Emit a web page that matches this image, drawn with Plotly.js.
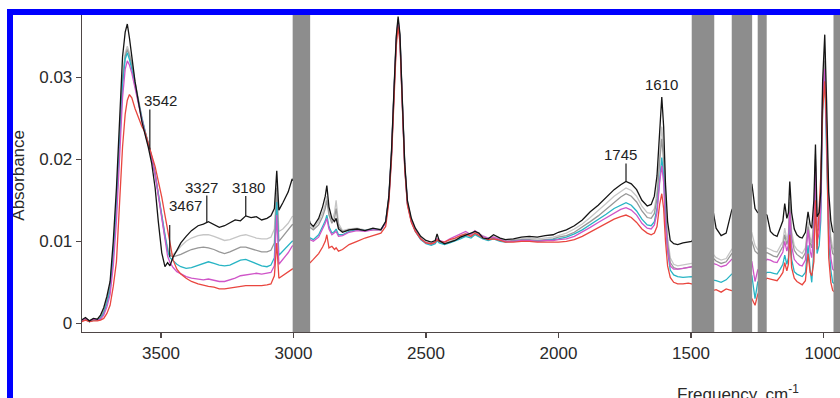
<!DOCTYPE html>
<html>
<head>
<meta charset="utf-8">
<script src="https://cdn.plot.ly/plotly-3.0.1.min.js"></script>
<style>
  html, body { margin: 0; padding: 0; background: #ffffff; overflow: hidden; width: 840px; height: 398px; }
  #chart { width: 900px; height: 398px; }
  #frame {
    position: absolute; left: 7px; top: 9px; width: 900px; height: 500px;
    border-left: 6px solid #0000ff; border-top: 6px solid #0000ff;
    pointer-events: none;
  }
</style>
</head>
<body>
<div id="chart"></div>
<div id="frame"></div>
<script>
// Wavenumber grid, cm-1 (descending)
const freq = [
  3800, 3785, 3770, 3755, 3740, 3728, 3716, 3704, 3692, 3680,
  3668, 3656, 3645, 3635, 3627, 3619, 3610, 3598, 3585, 3572,
  3560, 3548, 3535, 3522, 3510, 3497, 3485, 3475, 3466, 3454,
  3440, 3425, 3405, 3385, 3360, 3340, 3321, 3300, 3280, 3260,
  3240, 3220, 3200, 3180, 3160, 3140, 3120, 3100, 3085, 3072,
  3063, 3055, 3040, 3020, 3005, 2970, 2937, 2925, 2905, 2890,
  2880, 2874, 2866, 2855, 2845, 2839, 2830, 2815, 2790, 2760,
  2730, 2700, 2670, 2652, 2640, 2630, 2620, 2612, 2605, 2598,
  2590, 2580, 2570, 2555, 2540, 2520, 2500, 2480, 2465, 2458,
  2450, 2430, 2410, 2390, 2370, 2350, 2330, 2315, 2300, 2285,
  2265, 2245, 2220, 2200, 2170, 2140, 2110, 2080, 2050, 2020,
  2000, 1970, 1940, 1910, 1880, 1850, 1820, 1790, 1765, 1745,
  1725, 1705, 1685, 1665, 1650, 1638, 1628, 1618, 1610, 1603,
  1596, 1588, 1578, 1565, 1550, 1530, 1510, 1497, 1460, 1418,
  1405, 1386, 1367, 1346, 1310, 1270, 1258, 1248, 1230, 1213,
  1200, 1188, 1175, 1163, 1153, 1146, 1138, 1132, 1127, 1120,
  1110, 1100, 1090, 1080, 1068, 1058, 1050, 1044, 1036, 1030,
  1024, 1016, 1010, 1003, 995, 988, 980, 972, 965, 950,
  935
];

const absBlack = [
  0.0004, 0.0007, 0.0003, 0.0006, 0.0005, 0.0010, 0.0019, 0.0033, 0.0051, 0.0100,
  0.0165, 0.0258, 0.0325, 0.0355, 0.0365, 0.0348, 0.0325, 0.0295, 0.0270, 0.0246,
  0.0230, 0.0215, 0.0195, 0.0165, 0.0124, 0.0086, 0.0069, 0.0074, 0.0070, 0.0081,
  0.0089, 0.0098, 0.0106, 0.0113, 0.0119, 0.0121, 0.0124, 0.0120, 0.0117, 0.0119,
  0.0123, 0.0126, 0.0125, 0.0131, 0.0129, 0.0130, 0.0126, 0.0128, 0.0131, 0.0140,
  0.0186, 0.0138, 0.0147, 0.0160, 0.0176, 0.0160, 0.0122, 0.0118, 0.0128, 0.0142,
  0.0155, 0.0168, 0.0142, 0.0128, 0.0124, 0.0128, 0.0115, 0.0111, 0.0114, 0.0115,
  0.0113, 0.0116, 0.0114, 0.0124, 0.0155, 0.0210, 0.0290, 0.0350, 0.0374, 0.0352,
  0.0280, 0.0195, 0.0150, 0.0128, 0.0116, 0.0106, 0.0101, 0.0099, 0.0101, 0.0109,
  0.0101, 0.0097, 0.0099, 0.0101, 0.0105, 0.0108, 0.0110, 0.0112, 0.0110, 0.0104,
  0.0103, 0.0108, 0.0104, 0.0102, 0.0103, 0.0105, 0.0106, 0.0105, 0.0107, 0.0108,
  0.0111, 0.0114, 0.0119, 0.0126, 0.0136, 0.0144, 0.0154, 0.0163, 0.0169, 0.0173,
  0.0170, 0.0163, 0.0150, 0.0143, 0.0145, 0.0155, 0.0180, 0.0240, 0.0276, 0.0240,
  0.0170, 0.0124, 0.0101, 0.0097, 0.0096, 0.0098, 0.0099, 0.0100, 0.0120, 0.0140,
  0.0116, 0.0107, 0.0110, 0.0138, 0.0160, 0.0170, 0.0140, 0.0135, 0.0135, 0.0132,
  0.0112, 0.0108, 0.0106, 0.0116, 0.0125, 0.0146, 0.0128, 0.0135, 0.0173, 0.0135,
  0.0115, 0.0108, 0.0105, 0.0104, 0.0111, 0.0136, 0.0120, 0.0116, 0.0150, 0.0218,
  0.0130, 0.0135, 0.0160, 0.0295, 0.0352, 0.0270, 0.0160, 0.0125, 0.0112, 0.0108,
  0.0110
];

const absLightGray = [
  0.0003, 0.0005, 0.0002, 0.0004, 0.0004, 0.0007, 0.0015, 0.0028, 0.0045, 0.0090,
  0.0150, 0.0235, 0.0300, 0.0330, 0.0338, 0.0330, 0.0318, 0.0295, 0.0272, 0.0252,
  0.0235, 0.0220, 0.0204, 0.0183, 0.0158, 0.0130, 0.0108, 0.0093, 0.0085, 0.0084,
  0.0088, 0.0094, 0.0100, 0.0104, 0.0107, 0.0108, 0.0108, 0.0106, 0.0103, 0.0101,
  0.0102, 0.0105, 0.0107, 0.0108, 0.0106, 0.0104, 0.0103, 0.0103, 0.0105, 0.0115,
  0.0170, 0.0112, 0.0115, 0.0122, 0.0130, 0.0135, 0.0120, 0.0116, 0.0124, 0.0135,
  0.0145, 0.0155, 0.0135, 0.0125, 0.0135, 0.0150, 0.0122, 0.0113, 0.0115, 0.0116,
  0.0114, 0.0115, 0.0115, 0.0124, 0.0154, 0.0208, 0.0288, 0.0348, 0.0371, 0.0350,
  0.0278, 0.0193, 0.0148, 0.0126, 0.0114, 0.0104, 0.0099, 0.0097, 0.0099, 0.0104,
  0.0100, 0.0098, 0.0100, 0.0103, 0.0106, 0.0110, 0.0108, 0.0112, 0.0108, 0.0107,
  0.0104, 0.0106, 0.0103, 0.0101, 0.0102, 0.0103, 0.0104, 0.0103, 0.0104, 0.0105,
  0.0107, 0.0110, 0.0115, 0.0121, 0.0129, 0.0137, 0.0146, 0.0155, 0.0161, 0.0165,
  0.0162, 0.0155, 0.0143, 0.0135, 0.0134, 0.0140, 0.0160, 0.0210, 0.0240, 0.0210,
  0.0150, 0.0105, 0.0080, 0.0072, 0.0070, 0.0071, 0.0072, 0.0073, 0.0080, 0.0085,
  0.0080, 0.0077, 0.0079, 0.0090, 0.0100, 0.0110, 0.0095, 0.0090, 0.0090, 0.0092,
  0.0090, 0.0088, 0.0087, 0.0095, 0.0100, 0.0116, 0.0102, 0.0110, 0.0158, 0.0112,
  0.0095, 0.0090, 0.0087, 0.0085, 0.0092, 0.0124, 0.0104, 0.0098, 0.0130, 0.0206,
  0.0118, 0.0122, 0.0150, 0.0285, 0.0330, 0.0250, 0.0140, 0.0105, 0.0092, 0.0088,
  0.0090
];

const absGray = [
  0.0003, 0.0006, 0.0002, 0.0005, 0.0004, 0.0007, 0.0014, 0.0027, 0.0044, 0.0088,
  0.0148, 0.0232, 0.0296, 0.0326, 0.0334, 0.0327, 0.0315, 0.0293, 0.0270, 0.0250,
  0.0234, 0.0219, 0.0203, 0.0182, 0.0157, 0.0128, 0.0105, 0.0090, 0.0083, 0.0081,
  0.0082, 0.0084, 0.0087, 0.0090, 0.0092, 0.0093, 0.0092, 0.0090, 0.0087, 0.0085,
  0.0087, 0.0090, 0.0093, 0.0093, 0.0091, 0.0089, 0.0087, 0.0087, 0.0089, 0.0098,
  0.0165, 0.0100, 0.0106, 0.0113, 0.0120, 0.0125, 0.0117, 0.0114, 0.0120, 0.0130,
  0.0140, 0.0150, 0.0132, 0.0122, 0.0128, 0.0140, 0.0118, 0.0112, 0.0114, 0.0115,
  0.0113, 0.0114, 0.0114, 0.0123, 0.0153, 0.0207, 0.0287, 0.0347, 0.0370, 0.0349,
  0.0277, 0.0192, 0.0147, 0.0125, 0.0113, 0.0103, 0.0098, 0.0096, 0.0098, 0.0102,
  0.0099, 0.0097, 0.0099, 0.0102, 0.0104, 0.0107, 0.0106, 0.0109, 0.0106, 0.0104,
  0.0102, 0.0104, 0.0101, 0.0100, 0.0101, 0.0102, 0.0102, 0.0101, 0.0102, 0.0103,
  0.0105, 0.0107, 0.0111, 0.0117, 0.0124, 0.0131, 0.0139, 0.0148, 0.0154, 0.0158,
  0.0155, 0.0148, 0.0137, 0.0129, 0.0128, 0.0134, 0.0152, 0.0198, 0.0225, 0.0198,
  0.0140, 0.0098, 0.0074, 0.0068, 0.0066, 0.0067, 0.0068, 0.0069, 0.0075, 0.0080,
  0.0076, 0.0073, 0.0075, 0.0085, 0.0095, 0.0100, 0.0088, 0.0085, 0.0085, 0.0086,
  0.0084, 0.0082, 0.0081, 0.0089, 0.0094, 0.0108, 0.0096, 0.0104, 0.0148, 0.0105,
  0.0089, 0.0084, 0.0081, 0.0079, 0.0086, 0.0118, 0.0098, 0.0092, 0.0124, 0.0200,
  0.0112, 0.0116, 0.0144, 0.0280, 0.0320, 0.0240, 0.0132, 0.0098, 0.0085, 0.0081,
  0.0083
];

const absCyan = [
  0.0002, 0.0005, 0.0002, 0.0004, 0.0004, 0.0006, 0.0012, 0.0024, 0.0040, 0.0080,
  0.0140, 0.0220, 0.0290, 0.0322, 0.0330, 0.0322, 0.0310, 0.0290, 0.0268, 0.0250,
  0.0234, 0.0219, 0.0203, 0.0182, 0.0157, 0.0128, 0.0103, 0.0088, 0.0080, 0.0076,
  0.0072, 0.0069, 0.0067, 0.0068, 0.0071, 0.0073, 0.0075, 0.0073, 0.0071, 0.0070,
  0.0071, 0.0074, 0.0077, 0.0078, 0.0075, 0.0072, 0.0070, 0.0069, 0.0071, 0.0080,
  0.0148, 0.0083, 0.0088, 0.0095, 0.0100, 0.0103, 0.0104, 0.0102, 0.0108, 0.0118,
  0.0125, 0.0132, 0.0118, 0.0110, 0.0112, 0.0115, 0.0108, 0.0108, 0.0112, 0.0114,
  0.0113, 0.0115, 0.0114, 0.0123, 0.0152, 0.0206, 0.0286, 0.0345, 0.0368, 0.0347,
  0.0276, 0.0191, 0.0146, 0.0124, 0.0112, 0.0102, 0.0097, 0.0095, 0.0097, 0.0101,
  0.0098, 0.0096, 0.0098, 0.0101, 0.0103, 0.0106, 0.0104, 0.0108, 0.0105, 0.0103,
  0.0101, 0.0103, 0.0100, 0.0099, 0.0100, 0.0101, 0.0101, 0.0100, 0.0101, 0.0102,
  0.0103, 0.0105, 0.0109, 0.0114, 0.0120, 0.0126, 0.0133, 0.0140, 0.0144, 0.0147,
  0.0144, 0.0137, 0.0127, 0.0120, 0.0119, 0.0124, 0.0140, 0.0180, 0.0202, 0.0180,
  0.0125, 0.0088, 0.0065, 0.0059, 0.0057, 0.0056, 0.0057, 0.0057, 0.0055, 0.0053,
  0.0052, 0.0050, 0.0053, 0.0060, 0.0060, 0.0058, 0.0030, 0.0050, 0.0058, 0.0062,
  0.0062, 0.0061, 0.0060, 0.0066, 0.0072, 0.0083, 0.0072, 0.0080, 0.0124, 0.0078,
  0.0063, 0.0060, 0.0058, 0.0057, 0.0062, 0.0095, 0.0065, 0.0050, 0.0090, 0.0180,
  0.0085, 0.0095, 0.0125, 0.0260, 0.0300, 0.0210, 0.0100, 0.0065, 0.0050, 0.0046,
  0.0048
];

const absMagenta = [
  0.0003, 0.0006, 0.0003, 0.0005, 0.0004, 0.0005, 0.0010, 0.0020, 0.0035, 0.0070,
  0.0125, 0.0205, 0.0275, 0.0310, 0.0320, 0.0315, 0.0305, 0.0287, 0.0266, 0.0248,
  0.0232, 0.0218, 0.0202, 0.0181, 0.0155, 0.0125, 0.0098, 0.0082, 0.0074, 0.0068,
  0.0063, 0.0060, 0.0057, 0.0055, 0.0054, 0.0053, 0.0054, 0.0052, 0.0051, 0.0051,
  0.0053, 0.0055, 0.0058, 0.0059, 0.0060, 0.0061, 0.0060, 0.0061, 0.0062, 0.0070,
  0.0132, 0.0072, 0.0078, 0.0086, 0.0094, 0.0100, 0.0102, 0.0100, 0.0105, 0.0115,
  0.0122, 0.0128, 0.0115, 0.0108, 0.0110, 0.0112, 0.0106, 0.0107, 0.0111, 0.0113,
  0.0112, 0.0114, 0.0114, 0.0122, 0.0151, 0.0205, 0.0285, 0.0344, 0.0367, 0.0346,
  0.0275, 0.0190, 0.0146, 0.0124, 0.0113, 0.0103, 0.0098, 0.0097, 0.0099, 0.0103,
  0.0101, 0.0099, 0.0103, 0.0106, 0.0110, 0.0112, 0.0108, 0.0113, 0.0109, 0.0106,
  0.0104, 0.0105, 0.0102, 0.0100, 0.0100, 0.0101, 0.0101, 0.0100, 0.0101, 0.0101,
  0.0102, 0.0103, 0.0106, 0.0111, 0.0117, 0.0123, 0.0129, 0.0135, 0.0139, 0.0141,
  0.0138, 0.0132, 0.0122, 0.0116, 0.0115, 0.0120, 0.0135, 0.0172, 0.0192, 0.0172,
  0.0122, 0.0090, 0.0070, 0.0066, 0.0066, 0.0067, 0.0068, 0.0069, 0.0071, 0.0073,
  0.0072, 0.0069, 0.0071, 0.0078, 0.0080, 0.0075, 0.0051, 0.0065, 0.0072, 0.0078,
  0.0077, 0.0075, 0.0074, 0.0081, 0.0087, 0.0100, 0.0088, 0.0096, 0.0136, 0.0094,
  0.0078, 0.0074, 0.0071, 0.0070, 0.0077, 0.0114, 0.0088, 0.0080, 0.0112, 0.0192,
  0.0100, 0.0110, 0.0140, 0.0275, 0.0310, 0.0225, 0.0115, 0.0080, 0.0066, 0.0062,
  0.0064
];

const absRed = [
  0.0002, 0.0004, 0.0002, 0.0003, 0.0003, 0.0004, 0.0006, 0.0012, 0.0022, 0.0045,
  0.0075, 0.0145, 0.0215, 0.0255, 0.0272, 0.0279, 0.0275, 0.0262, 0.0250, 0.0240,
  0.0233, 0.0218, 0.0205, 0.0191, 0.0175, 0.0154, 0.0132, 0.0114, 0.0096, 0.0077,
  0.0066, 0.0060, 0.0055, 0.0051, 0.0048, 0.0046, 0.0045, 0.0044, 0.0042, 0.0042,
  0.0043, 0.0044, 0.0045, 0.0046, 0.0046, 0.0046, 0.0046, 0.0047, 0.0048, 0.0058,
  0.0098, 0.0055, 0.0058, 0.0062, 0.0066, 0.0070, 0.0074, 0.0078, 0.0085, 0.0093,
  0.0100, 0.0108, 0.0092, 0.0094, 0.0090, 0.0092, 0.0088, 0.0090, 0.0096, 0.0100,
  0.0104, 0.0107, 0.0110, 0.0118, 0.0148, 0.0200, 0.0280, 0.0338, 0.0362, 0.0342,
  0.0272, 0.0188, 0.0144, 0.0123, 0.0112, 0.0103, 0.0098, 0.0097, 0.0099, 0.0102,
  0.0100, 0.0099, 0.0102, 0.0104, 0.0107, 0.0109, 0.0106, 0.0110, 0.0107, 0.0104,
  0.0102, 0.0103, 0.0101, 0.0099, 0.0099, 0.0100, 0.0100, 0.0099, 0.0099, 0.0099,
  0.0099, 0.0100, 0.0102, 0.0106, 0.0111, 0.0116, 0.0121, 0.0127, 0.0130, 0.0132,
  0.0129, 0.0123, 0.0115, 0.0110, 0.0108, 0.0110, 0.0118, 0.0145, 0.0158, 0.0140,
  0.0100, 0.0070, 0.0056, 0.0050, 0.0048, 0.0048, 0.0049, 0.0048, 0.0043, 0.0040,
  0.0041, 0.0038, 0.0042, 0.0040, 0.0035, 0.0030, 0.0022, 0.0035, 0.0048, 0.0055,
  0.0054, 0.0053, 0.0052, 0.0057, 0.0062, 0.0074, 0.0064, 0.0072, 0.0108, 0.0068,
  0.0055, 0.0051, 0.0049, 0.0047, 0.0052, 0.0085, 0.0062, 0.0058, 0.0075, 0.0150,
  0.0090, 0.0140, 0.0180, 0.0260, 0.0295, 0.0240, 0.0080, 0.0050, 0.0040, 0.0036,
  0.0038
];

// Axis ticks
const xTicks = [3500, 3000, 2500, 2000, 1500, 1000];
const yTicks = [0, 0.01, 0.02, 0.03];
const yTickText = ['0', '0.01', '0.02', '0.03'];

// Masked spectral windows, cm-1
const bandStart = [3003, 1497, 1346, 1248, 962];
const bandEnd = [2937, 1412, 1269, 1214, 880];

// Peak labels, cm-1
const labelFreq = [3542, 3467, 3327, 3180, 1745, 1610];

// Spectra drawn back to front
const spectra = [
  { y: absLightGray, color: '#c6c6c6' },
  { y: absGray, color: '#979797' },
  { y: absCyan, color: '#27b4c4' },
  { y: absMagenta, color: '#cf55c8' },
  { y: absRed, color: '#e9463f' },
  { y: absBlack, color: '#151515' }
];

const traces = spectra.map(s => ({
  type: 'scatter', mode: 'lines', x: freq, y: s.y,
  line: { color: s.color, width: 1.3 }, hoverinfo: 'skip'
}));

// Value of a drawn curve at a given wavenumber (for placing leader lines)
function curveAt(series, f) {
  for (let i = 0; i < freq.length - 1; i++) {
    const a = freq[i], b = freq[i + 1];
    if ((a - f) * (b - f) <= 0) {
      const t = (f - a) / (b - a);
      return series[i] + t * (series[i + 1] - series[i]);
    }
  }
  return 0;
}

// Leader style per label: curve it points at, leader length and text offset (px)
const labelStyle = [
  { on: absRed,   len: 40, dx: 11, dy: 49 },
  { on: absCyan,  len: 32, dx: 16, dy: 51 },
  { on: absBlack, len: 27, dx: -5, dy: 35 },
  { on: absBlack, len: 20, dx: 3,  dy: 28 },
  { on: absBlack, len: 18, dx: -6, dy: 27 },
  { on: absBlack, len: 0,  dx: 0,  dy: 12 }
];

const axisColor = '#4e4646';
const shapes = [];
const annotations = [];

bandStart.forEach((s, i) => {
  shapes.push({
    type: 'rect', xref: 'x', yref: 'paper', x0: s, x1: bandEnd[i], y0: 0, y1: 1,
    fillcolor: '#8d8d8d', line: { width: 0 }, layer: 'above'
  });
});

labelFreq.forEach((f, i) => {
  const st = labelStyle[i];
  const tip = curveAt(st.on, f);
  if (st.len > 0) {
    shapes.push({
      type: 'line', xref: 'x', yref: 'y', x0: f, x1: f,
      ysizemode: 'pixel', yanchor: tip, y0: 0, y1: st.len,
      line: { color: '#1a1a1a', width: 1.2 }
    });
  }
  annotations.push({
    xref: 'x', yref: 'y', x: f, y: tip, text: String(f), showarrow: false,
    xshift: st.dx, yshift: st.dy, font: { size: 15, color: '#222222' }
  });
});

annotations.push({
  xref: 'paper', yref: 'paper', x: -0.077, y: 0.49, textangle: -90,
  text: 'Absorbance', showarrow: false, xanchor: 'center', yanchor: 'middle',
  font: { size: 17, color: '#2a2a2a' }
});
annotations.push({
  xref: 'paper', yref: 'paper', x: 0.802, y: -0.19,
  text: 'Frequency, cm<sup>-1</sup>', showarrow: false, xanchor: 'center', yanchor: 'middle',
  font: { size: 17, color: '#2a2a2a' }
});

const layout = {
  width: 900, height: 398,
  margin: { l: 82, r: 0, t: 13, b: 66, pad: 0 },
  paper_bgcolor: '#ffffff', plot_bgcolor: '#ffffff',
  showlegend: false,
  font: { family: '"Liberation Sans", Arial, sans-serif', size: 17, color: '#2a2a2a' },
  xaxis: {
    range: [3798, 711], tickvals: xTicks, ticks: 'outside', ticklen: 5, tickwidth: 1.2,
    tickcolor: axisColor, showline: true, linecolor: axisColor, linewidth: 1.3,
    showgrid: false, zeroline: false, tickfont: { size: 17 }
  },
  yaxis: {
    range: [-0.00106, 0.03784], tickvals: yTicks, ticktext: yTickText, ticks: 'outside',
    ticklen: 5, tickwidth: 1.2, tickcolor: axisColor, showline: true, linecolor: axisColor,
    linewidth: 1.3, showgrid: false, zeroline: false, tickfont: { size: 17 }
  },
  shapes: shapes,
  annotations: annotations
};

Plotly.newPlot('chart', traces, layout, { staticPlot: true, displayModeBar: false });
</script>
</body>
</html>
